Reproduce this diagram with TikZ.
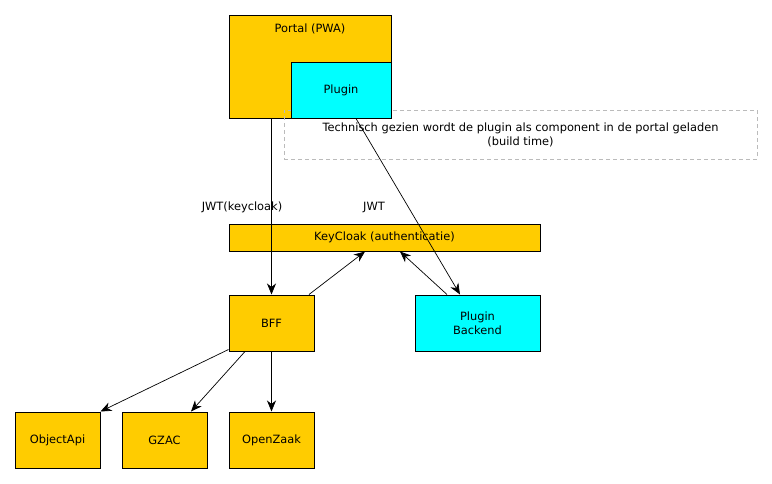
\documentclass[tikz,border=0pt]{standalone}
\usepackage{fontspec}
\setmainfont{DejaVu Sans}
\usetikzlibrary{arrows.meta,positioning}

\definecolor{compgold}{HTML}{FFCC00}
\definecolor{plugcyan}{HTML}{00FFFF}
\definecolor{notegray}{HTML}{BBBBBB}

\tikzset{
  comp/.style={draw, fill=compgold, line width=1pt, inner sep=0pt, align=center, font=\fontsize{11.4}{14}\selectfont},
  plug/.style={comp, fill=plugcyan},
  note/.style={draw=notegray, dashed, dash pattern=on 4pt off 3pt, line width=0.8pt, inner sep=0pt, align=center, font=\fontsize{11.4}{14}\selectfont},
  arr/.style={-{Stealth[length=11pt,width=9pt,inset=3.5pt]}, line width=0.7pt},
  lbl/.style={font=\fontsize{11.4}{14}\selectfont, inner sep=0pt}
}

\begin{document}
\begin{tikzpicture}[x=1pt,y=-1pt]
\useasboundingbox (0,0) rectangle (772,483);

% portal with the plugin inside
\node[comp, minimum width=162pt, minimum height=103pt] (portal) at (310,66.5) {};
\node[lbl, below=9.5pt of portal.north] (portaltxt) {Portal (PWA)};
\node[note, minimum width=473pt, minimum height=49pt] (buildnote) at (520.5,134.5)
  {Technisch gezien wordt de plugin als component in de portal geladen\\(build time)};
\node[plug, minimum width=100pt, minimum height=56pt] (plugin) at (341,90) {Plugin};

% middle row
\node[comp, minimum width=311pt, minimum height=27pt] (keycloak) at (384.5,237.5) {KeyCloak (authenticatie)};
\node[comp, minimum width=85pt, minimum height=56pt] (bff) at (271.5,323) {BFF};
\node[plug, minimum width=125pt, minimum height=56pt] (pbackend) at (477.5,323) {Plugin\\Backend};

% bottom row
\node[comp, minimum width=85pt, minimum height=56pt] (objectapi) at (57.5,440) {ObjectApi};
\node[comp, minimum width=85pt, minimum height=56pt] (gzac) at (164.5,440) {GZAC};
\node[comp, minimum width=85pt, minimum height=56pt] (openzaak) at (271.5,440) {OpenZaak};

\node[lbl] (jwtkc) at (242,207) {JWT(keycloak)};
\node[lbl] (jwt) at (374,207) {JWT};

\draw[arr] (bff.north |- portal.south) -- (bff.north);
\draw[arr] ([xshift=15pt]plugin.south) -- ([xshift=-17.5pt]pbackend.north);
\draw[arr] ([xshift=37.5pt]bff.north) -- ([xshift=-19.5pt]keycloak.south);
\draw[arr] ([xshift=-30.5pt]pbackend.north) -- ([xshift=15.5pt]keycloak.south);

\draw[arr] ([yshift=2pt]bff.south west) -- (objectapi.north east);
\draw[arr] ([xshift=-26.5pt]bff.south) -- ([xshift=26.5pt]gzac.north);
\draw[arr] (bff.south) -- (openzaak.north);

\end{tikzpicture}
\end{document}
